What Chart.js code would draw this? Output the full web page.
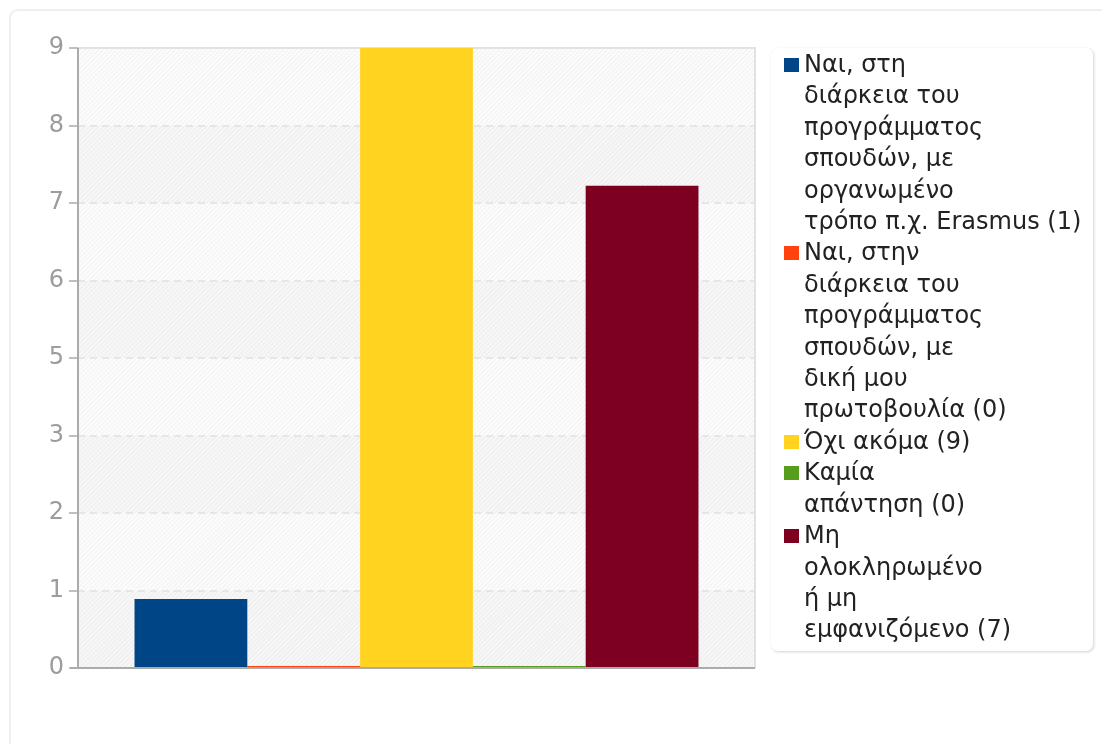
<!DOCTYPE html>
<html>
<head>
<meta charset="utf-8">
<script src="https://cdn.jsdelivr.net/npm/chart.js@4/dist/chart.umd.min.js"></script>
<style>
  html, body { margin: 0; padding: 0; background: #fff; }
  body { width: 1102px; height: 744px; position: relative; overflow: hidden; font-family: "DejaVu Sans", sans-serif; }
  #frame { position: absolute; left: 9px; top: 9px; width: 1120px; height: 800px; border: 2px solid #efefef; border-radius: 9px; box-sizing: border-box; }
  #wrap { position: absolute; left: 0; top: 0; width: 1102px; height: 744px; }
  #legend { position: absolute; left: 771px; top: 48px; width: 322px; height: 603px; background: #fff; border-radius: 7px;
            box-shadow: 1px 1px 3px rgba(0,0,0,0.18), 0 0 1px rgba(0,0,0,0.06); box-sizing: border-box; padding-top: 1px; }
  .item { position: relative; padding-left: 33px; font-size: 24px; line-height: 31.4px; color: #222; white-space: nowrap; }
  .swatch { position: absolute; left: 13px; top: 9px; width: 15px; height: 14px; }
</style>
</head>
<body>
<div id="frame"></div>
<div id="wrap"><canvas id="c" width="1102" height="744"></canvas></div>
<div id="legend"></div>
<script>
// Answer categories, each split into the lines shown in the legend
const categories = [
  ["Ναι, στη", "διάρκεια του", "προγράμματος", "σπουδών, με", "οργανωμένο", "τρόπο π.χ. Erasmus"],
  ["Ναι, στην", "διάρκεια του", "προγράμματος", "σπουδών, με", "δική μου", "πρωτοβουλία"],
  ["Όχι ακόμα"],
  ["Καμία", "απάντηση"],
  ["Μη", "ολοκληρωμένο", "ή μη", "εμφανιζόμενο"]
];
// Number of responses per category
const counts = [1, 0, 9, 0, 7];
const colors = ["#004586", "#ff420e", "#ffd320", "#579d1c", "#7e0021"];
// Axis runs 0..9 split into eight equal steps; labels are rounded
const axisMax = 9;
const axisSteps = 8;

// Legend box
const legend = document.getElementById('legend');
categories.forEach((lines, i) => {
  const item = document.createElement('div');
  item.className = 'item';
  const sw = document.createElement('span');
  sw.className = 'swatch';
  sw.style.background = colors[i];
  item.appendChild(sw);
  const withCount = lines.slice();
  withCount[withCount.length - 1] += ' (' + counts[i] + ')';
  withCount.forEach((ln, k) => {
    if (k) item.appendChild(document.createElement('br'));
    item.appendChild(document.createTextNode(ln));
  });
  legend.appendChild(item);
});

// Striped plot background with alternating bands, plus the frame lines
const plotBackground = {
  id: 'plotBackground',
  beforeDraw(chart) {
    const { ctx, chartArea: a, scales: { y } } = chart;
    ctx.save();
    ctx.beginPath();
    ctx.rect(a.left, a.top, a.right - a.left, a.bottom - a.top);
    ctx.clip();
    const ticks = y.ticks;
    for (let i = 0; i < ticks.length - 1; i++) {
      const y0 = y.getPixelForValue(ticks[i].value);
      const y1 = y.getPixelForValue(ticks[i + 1].value);
      const odd = (ticks.length - 2 - i) % 2 === 0;
      ctx.fillStyle = odd ? '#fcfcfc' : '#f7f7f7';
      ctx.fillRect(a.left, y1, a.right - a.left, y0 - y1);
    }
    ctx.strokeStyle = 'rgba(0,0,0,0.04)';
    ctx.lineWidth = 1.2;
    const h = a.bottom - a.top;
    ctx.beginPath();
    for (let x = a.left - h; x < a.right + 10; x += 4.5) {
      ctx.moveTo(x, a.bottom);
      ctx.lineTo(x + h, a.top);
    }
    ctx.stroke();
    ctx.restore();
  },
  beforeDatasetsDraw(chart) {
    const { ctx, chartArea: a } = chart;
    ctx.save();
    ctx.lineWidth = 2;
    ctx.strokeStyle = '#e2e2e2';
    ctx.beginPath();
    ctx.moveTo(a.left, a.top);
    ctx.lineTo(a.right, a.top);
    ctx.lineTo(a.right, a.bottom);
    ctx.stroke();
    ctx.strokeStyle = '#ababab';
    ctx.beginPath();
    ctx.moveTo(a.left - 8, a.bottom);
    ctx.lineTo(a.right, a.bottom);
    ctx.moveTo(a.left, a.top);
    ctx.lineTo(a.left, a.bottom);
    ctx.stroke();
    ctx.restore();
  }
};

new Chart(document.getElementById('c'), {
  type: 'bar',
  data: {
    labels: [''],
    datasets: categories.map((lines, i) => ({
      label: lines.join(' '),
      data: [counts[i]],
      backgroundColor: colors[i],
      borderWidth: 0,
      minBarLength: 2
    }))
  },
  options: {
    responsive: false,
    animation: false,
    events: [],
    datasets: { bar: { categoryPercentage: 0.833, barPercentage: 1 } },
    layout: { padding: { left: 0, top: 48, right: 347, bottom: 76 } },
    plugins: { legend: { display: false }, tooltip: { enabled: false } },
    scales: {
      x: { display: false },
      y: {
        min: 0,
        max: axisMax,
        afterFit(scale) { scale.width = 78; },
        ticks: {
          stepSize: axisMax / axisSteps,
          callback: v => Math.round(v),
          color: '#9c9c9c',
          padding: 5,
          font: { family: 'DejaVu Sans', size: 24 }
        },
        border: { display: false, dash: [7, 5] },
        grid: {
          color: ctx => (ctx.index === 0 || ctx.index === axisSteps) ? 'rgba(0,0,0,0)' : '#e6e6e6',
          lineWidth: 2,
          drawTicks: true,
          tickLength: 9,
          tickColor: '#ababab',
          tickWidth: 1.5,
          tickBorderDash: []
        }
      }
    }
  },
  plugins: [plotBackground]
});
</script>
</body>
</html>
